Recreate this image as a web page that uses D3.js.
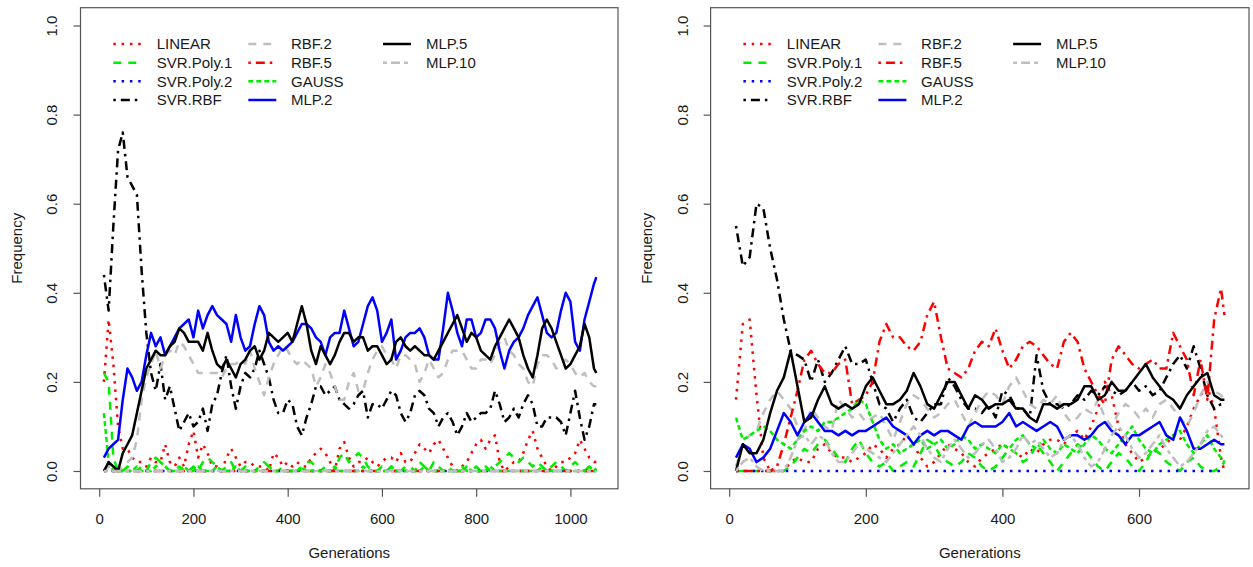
<!DOCTYPE html>
<html><head><meta charset="utf-8">
<script src="https://cdn.jsdelivr.net/npm/d3@7"></script>
<style>
body{margin:0;background:#fff}
text{font-family:Arial,"Liberation Sans",sans-serif;fill:#1a1a1a}
</style>
</head><body>
<svg id="c" width="1253" height="567"></svg>
<script>
// ---------- categories / ticks ----------
const seriesNames = ["LINEAR","SVR.Poly.1","SVR.Poly.2","SVR.RBF","RBF.2","RBF.5","GAUSS","MLP.2","MLP.5","MLP.10"];
const yTicks = [0, 0.2, 0.4, 0.6, 0.8, 1.0];
const leftXTicks = [0, 200, 400, 600, 800, 1000];
const rightXTicks = [0, 200, 400, 600];
const xLabel = "Generations";
const yLabel = "Frequency";

// generation grid (sampling positions of the curves)
const leftGen = d3.range(10, 1051, 10).concat([1055]);
const rightGen = d3.range(10, 721, 10).concat([725]);
const leftFlatGen = [10, 1055];
const rightFlatGen = [10, 725];
const flatZero = [0, 0];

// ---------- left panel values ----------
const leftLINEAR = [
0.20,0.34,0.24,0.10,0.05,0.05,0.03,0.02,0.02,0.01,
0.03,0.02,0.02,0.06,0.02,0.01,0.03,0.01,0.06,0.09,
0.03,0.06,0.04,0.01,0.01,0.00,0.03,0.05,0.03,0.01,
0.02,0.02,0.01,0.01,0.01,0.00,0.04,0.03,0.01,0.02,
0.01,0.02,0.01,0.01,0.03,0.04,0.05,0.04,0.02,0.00,
0.05,0.065,0.03,0.01,0.02,0.02,0.03,0.02,0.01,0.02,
0.03,0.03,0.02,0.04,0.02,0.02,0.04,0.06,0.05,0.04,
0.06,0.07,0.05,0.03,0.01,0.00,0.01,0.02,0.04,0.06,
0.07,0.05,0.07,0.08,0.02,0.00,0.01,0.02,0.02,0.04,
0.07,0.09,0.05,0.03,0.01,0.00,0.01,0.02,0.02,0.03,
0.04,0.07,0.05,0.03,0.02,0.02];
const leftSVRPoly1 = [
0.22,0.20,0.03,0.00,0.00,0.01,0.00,0.00,0.01,0.00,
0.02,0.03,0.02,0.01,0.00,0.00,0.01,0.00,0.00,0.01,
0.00,0.02,0.03,0.02,0.01,0.00,0.01,0.02,0.00,0.00,
0.01,0.00,0.00,0.01,0.02,0.01,0.00,0.00,0.01,0.00,
0.00,0.01,0.00,0.02,0.02,0.01,0.00,0.01,0.00,0.00,
0.03,0.04,0.02,0.03,0.04,0.03,0.01,0.00,0.00,0.01,
0.00,0.01,0.00,0.00,0.01,0.01,0.00,0.02,0.01,0.00,
0.02,0.01,0.00,0.01,0.00,0.00,0.01,0.00,0.00,0.01,
0.00,0.01,0.00,0.01,0.02,0.03,0.04,0.03,0.02,0.03,
0.02,0.01,0.02,0.01,0.00,0.01,0.02,0.01,0.00,0.01,
0.02,0.01,0.00,0.01,0.01,0.00];
const leftSVRRBF = [
0.44,0.36,0.55,0.72,0.76,0.66,0.64,0.62,0.45,0.31,
0.22,0.18,0.24,0.16,0.19,0.14,0.09,0.11,0.13,0.10,
0.11,0.14,0.09,0.15,0.17,0.22,0.26,0.19,0.14,0.19,
0.22,0.21,0.23,0.27,0.24,0.21,0.16,0.13,0.13,0.16,
0.15,0.10,0.08,0.12,0.15,0.19,0.19,0.17,0.18,0.19,
0.16,0.15,0.14,0.15,0.17,0.18,0.12,0.15,0.15,0.14,
0.16,0.18,0.17,0.13,0.11,0.13,0.17,0.18,0.17,0.14,
0.13,0.10,0.12,0.13,0.11,0.08,0.10,0.13,0.11,0.12,
0.13,0.13,0.14,0.18,0.15,0.11,0.12,0.14,0.12,0.15,
0.17,0.15,0.10,0.10,0.12,0.12,0.12,0.11,0.08,0.13,
0.18,0.12,0.07,0.10,0.15,0.15];
const leftRBF2 = [
0.00,0.01,0.00,0.00,0.01,0.02,0.03,0.07,0.16,0.21,
0.24,0.27,0.23,0.26,0.27,0.26,0.29,0.28,0.26,0.24,
0.22,0.22,0.22,0.22,0.22,0.21,0.23,0.24,0.24,0.25,
0.24,0.27,0.23,0.20,0.17,0.21,0.24,0.26,0.28,0.27,
0.25,0.24,0.25,0.24,0.23,0.19,0.21,0.24,0.22,0.19,
0.16,0.16,0.20,0.22,0.18,0.18,0.22,0.25,0.27,0.28,
0.26,0.25,0.23,0.26,0.26,0.25,0.24,0.20,0.22,0.25,
0.23,0.21,0.22,0.25,0.27,0.27,0.27,0.25,0.23,0.23,
0.25,0.25,0.24,0.26,0.29,0.30,0.27,0.26,0.24,0.23,
0.20,0.19,0.24,0.26,0.26,0.25,0.23,0.24,0.25,0.24,
0.22,0.21,0.22,0.20,0.19,0.19];
const leftGAUSS = [
0.13,0.02,0.00,0.00,0.00,0.00,0.00,0.01,0.00,0.00,
0.00,0.01,0.02,0.01,0.00,0.00,0.00,0.01,0.00,0.00,
0.01,0.00,0.00,0.00,0.01,0.00,0.00,0.00,0.01,0.00,
0.00,0.00,0.00,0.00,0.00,0.01,0.00,0.00,0.00,0.00,
0.00,0.00,0.01,0.00,0.00,0.00,0.00,0.00,0.00,0.01,
0.00,0.00,0.00,0.00,0.00,0.01,0.00,0.00,0.00,0.00,
0.00,0.01,0.00,0.00,0.00,0.00,0.00,0.00,0.01,0.00,
0.00,0.00,0.00,0.00,0.00,0.00,0.00,0.01,0.00,0.00,
0.00,0.00,0.01,0.00,0.00,0.00,0.00,0.00,0.00,0.00,
0.00,0.00,0.00,0.01,0.00,0.00,0.00,0.00,0.00,0.00,
0.00,0.00,0.00,0.01,0.00,0.00];
const leftMLP2 = [
0.03,0.05,0.06,0.07,0.16,0.23,0.21,0.18,0.20,0.26,
0.31,0.28,0.30,0.26,0.28,0.30,0.32,0.33,0.34,0.30,
0.36,0.32,0.35,0.37,0.35,0.34,0.33,0.29,0.35,0.30,
0.27,0.28,0.33,0.37,0.35,0.29,0.27,0.28,0.27,0.28,
0.29,0.31,0.33,0.33,0.32,0.30,0.29,0.26,0.30,0.31,
0.31,0.36,0.32,0.28,0.29,0.33,0.37,0.39,0.36,0.29,
0.31,0.34,0.25,0.27,0.30,0.31,0.31,0.32,0.30,0.26,
0.25,0.25,0.32,0.40,0.36,0.31,0.28,0.34,0.34,0.30,
0.31,0.34,0.34,0.32,0.27,0.23,0.27,0.29,0.30,0.32,
0.35,0.37,0.39,0.35,0.31,0.30,0.31,0.36,0.40,0.38,
0.29,0.27,0.34,0.38,0.42,0.435];
const leftMLP5 = [
0.00,0.02,0.01,0.00,0.04,0.06,0.08,0.13,0.18,0.23,
0.25,0.27,0.26,0.26,0.28,0.29,0.32,0.31,0.29,0.29,
0.29,0.27,0.31,0.27,0.24,0.23,0.25,0.23,0.21,0.24,
0.25,0.27,0.28,0.25,0.27,0.31,0.30,0.29,0.30,0.31,
0.29,0.33,0.37,0.33,0.27,0.24,0.28,0.26,0.24,0.26,
0.29,0.31,0.31,0.29,0.30,0.30,0.27,0.28,0.28,0.26,
0.24,0.25,0.29,0.30,0.28,0.27,0.28,0.27,0.26,0.26,
0.25,0.27,0.29,0.31,0.33,0.35,0.32,0.29,0.31,0.30,
0.27,0.26,0.25,0.28,0.30,0.32,0.34,0.32,0.30,0.26,
0.23,0.21,0.26,0.32,0.34,0.32,0.29,0.26,0.23,0.24,
0.26,0.28,0.33,0.30,0.23,0.22];

// ---------- right panel values ----------
const rightLINEAR = [
0.16,0.33,0.34,0.17,0.03,0.00,0.00,0.00,0.02,0.03,
0.02,0.02,0.05,0.06,0.04,0.03,0.03,0.02,0.03,0.04,
0.06,0.05,0.03,0.05,0.06,0.08,0.06,0.03,0.01,0.02,
0.04,0.06,0.05,0.04,0.02,0.01,0.03,0.04,0.05,0.06,
0.05,0.04,0.03,0.05,0.04,0.06,0.07,0.07,0.06,0.08,
0.09,0.07,0.10,0.14,0.20,0.17,0.10,0.06,0.04,0.02,
0.03,0.04,0.05,0.06,0.08,0.07,0.10,0.14,0.17,0.19,
0.14,0.03,0.00];
const rightSVRPoly1 = [
0.00,0.00,0.00,0.00,0.00,0.00,0.00,0.00,0.01,0.03,
0.05,0.04,0.06,0.07,0.05,0.03,0.02,0.05,0.07,0.04,
0.02,0.01,0.02,0.00,0.01,0.02,0.01,0.04,0.07,0.06,
0.03,0.02,0.01,0.02,0.04,0.03,0.01,0.00,0.01,0.03,
0.05,0.04,0.02,0.03,0.06,0.04,0.02,0.00,0.02,0.04,
0.06,0.05,0.03,0.01,0.00,0.02,0.04,0.03,0.01,0.00,
0.02,0.05,0.04,0.02,0.01,0.00,0.02,0.03,0.01,0.00,
0.00,0.01,0.02];
const rightSVRRBF = [
0.55,0.46,0.48,0.60,0.59,0.50,0.43,0.34,0.27,0.26,
0.25,0.20,0.25,0.20,0.22,0.25,0.28,0.24,0.24,0.25,
0.20,0.15,0.14,0.11,0.14,0.16,0.12,0.11,0.13,0.15,
0.15,0.21,0.19,0.16,0.14,0.14,0.13,0.15,0.12,0.18,
0.17,0.14,0.14,0.12,0.26,0.18,0.15,0.15,0.14,0.15,
0.17,0.16,0.18,0.17,0.19,0.18,0.17,0.18,0.20,0.18,
0.19,0.17,0.18,0.21,0.24,0.26,0.23,0.28,0.23,0.17,
0.14,0.15,0.15];
const rightRBF2 = [
0.01,0.06,0.08,0.09,0.13,0.16,0.18,0.16,0.14,0.10,
0.09,0.14,0.12,0.10,0.09,0.16,0.14,0.12,0.13,0.11,
0.12,0.13,0.10,0.07,0.11,0.15,0.17,0.16,0.14,0.12,
0.13,0.15,0.16,0.13,0.10,0.13,0.16,0.18,0.17,0.15,
0.19,0.21,0.18,0.15,0.14,0.16,0.15,0.17,0.13,0.11,
0.12,0.14,0.13,0.16,0.12,0.10,0.13,0.15,0.14,0.12,
0.14,0.12,0.15,0.16,0.14,0.12,0.10,0.13,0.17,0.20,
0.18,0.17,0.16];
const rightRBF5 = [
0.00,0.00,0.00,0.00,0.00,0.00,0.01,0.06,0.12,0.18,
0.25,0.27,0.24,0.22,0.22,0.24,0.25,0.15,0.16,0.17,
0.20,0.29,0.33,0.30,0.30,0.28,0.27,0.29,0.35,0.38,
0.30,0.23,0.22,0.21,0.23,0.27,0.29,0.28,0.32,0.27,
0.23,0.25,0.28,0.29,0.28,0.26,0.24,0.23,0.29,0.31,
0.29,0.23,0.20,0.17,0.15,0.25,0.28,0.26,0.24,0.23,
0.24,0.25,0.23,0.23,0.31,0.28,0.25,0.17,0.25,0.16,
0.34,0.41,0.35];
const rightGAUSS = [
0.12,0.07,0.08,0.09,0.10,0.09,0.07,0.06,0.05,0.07,
0.09,0.10,0.09,0.11,0.11,0.12,0.13,0.14,0.16,0.15,
0.11,0.07,0.05,0.06,0.04,0.05,0.06,0.07,0.05,0.06,
0.07,0.05,0.06,0.08,0.07,0.05,0.06,0.05,0.04,0.06,
0.05,0.07,0.08,0.06,0.05,0.07,0.05,0.04,0.06,0.05,
0.04,0.06,0.08,0.07,0.05,0.04,0.06,0.08,0.10,0.07,
0.05,0.04,0.06,0.07,0.08,0.09,0.06,0.04,0.06,0.08,
0.05,0.03,0.02];
const rightMLP2 = [
0.03,0.06,0.05,0.02,0.03,0.05,0.09,0.13,0.11,0.08,
0.11,0.13,0.11,0.09,0.09,0.08,0.09,0.08,0.09,0.09,
0.10,0.11,0.12,0.10,0.09,0.08,0.06,0.08,0.09,0.08,
0.09,0.09,0.08,0.07,0.10,0.11,0.10,0.10,0.10,0.11,
0.13,0.10,0.11,0.10,0.09,0.10,0.11,0.10,0.07,0.08,
0.08,0.07,0.08,0.10,0.11,0.09,0.08,0.06,0.08,0.08,
0.09,0.10,0.11,0.08,0.07,0.12,0.09,0.05,0.05,0.06,
0.07,0.06,0.06];
const rightMLP5 = [
0.00,0.06,0.04,0.04,0.07,0.13,0.18,0.21,0.27,0.19,
0.11,0.12,0.16,0.19,0.15,0.14,0.15,0.14,0.15,0.19,
0.21,0.18,0.15,0.15,0.16,0.18,0.22,0.19,0.15,0.14,
0.17,0.20,0.20,0.17,0.14,0.17,0.16,0.14,0.15,0.15,
0.16,0.14,0.14,0.12,0.11,0.15,0.15,0.14,0.15,0.15,
0.16,0.19,0.19,0.16,0.17,0.20,0.18,0.18,0.20,0.22,
0.24,0.21,0.19,0.17,0.16,0.14,0.17,0.19,0.21,0.22,
0.17,0.16,0.16];
const rightMLP10 = [
0.00,0.02,0.03,0.01,0.00,0.00,0.00,0.00,0.03,0.07,
0.08,0.06,0.08,0.07,0.04,0.02,0.02,0.04,0.06,0.05,
0.04,0.03,0.02,0.04,0.06,0.08,0.10,0.08,0.05,0.03,
0.02,0.05,0.07,0.05,0.03,0.04,0.06,0.07,0.05,0.02,
0.03,0.05,0.08,0.06,0.07,0.05,0.03,0.04,0.07,0.08,
0.06,0.03,0.01,0.02,0.05,0.08,0.10,0.08,0.05,0.03,
0.04,0.06,0.08,0.05,0.03,0.01,0.02,0.04,0.06,0.09,
0.10,0.08,0.07];

// ---------- styles ----------
const seriesColor = {
  "LINEAR":"#ff0000","SVR.Poly.1":"#00ee00","SVR.Poly.2":"#0000ff","SVR.RBF":"#000000",
  "RBF.2":"#bebebe","RBF.5":"#ff0000","GAUSS":"#00ee00","MLP.2":"#0000ff","MLP.5":"#000000","MLP.10":"#bebebe"};
const seriesDash = {
  "LINEAR":"2.5,5.8","SVR.Poly.1":"8,7","SVR.Poly.2":"2.5,5.8","SVR.RBF":"2.5,5,9,5",
  "RBF.2":"8,7","RBF.5":"2.5,5,9,5","GAUSS":"5,3","MLP.2":null,"MLP.5":null,"MLP.10":"4,4,9,4"};

const panels = [
  {left:80.5, right:618, xdom:[-39.7,1101], xticks:leftXTicks, series:[
    ["LINEAR", leftGen, leftLINEAR],
    ["SVR.Poly.1", leftGen, leftSVRPoly1],
    ["SVR.Poly.2", leftFlatGen, flatZero],
    ["SVR.RBF", leftGen, leftSVRRBF],
    ["RBF.2", leftGen, leftRBF2],
    ["RBF.5", leftFlatGen, flatZero],
    ["GAUSS", leftGen, leftGAUSS],
    ["MLP.2", leftGen, leftMLP2],
    ["MLP.5", leftGen, leftMLP5],
    ["MLP.10", leftFlatGen, flatZero]]},
  {left:710.6, right:1249, xdom:[-27.2,761], xticks:rightXTicks, series:[
    ["LINEAR", rightGen, rightLINEAR],
    ["SVR.Poly.1", rightGen, rightSVRPoly1],
    ["SVR.Poly.2", rightFlatGen, flatZero],
    ["SVR.RBF", rightGen, rightSVRRBF],
    ["RBF.2", rightGen, rightRBF2],
    ["RBF.5", rightGen, rightRBF5],
    ["GAUSS", rightGen, rightGAUSS],
    ["MLP.2", rightGen, rightMLP2],
    ["MLP.5", rightGen, rightMLP5],
    ["MLP.10", rightGen, rightMLP10]]}
];

const svg = d3.select("#c");
const plotTop = 7.7, plotBottom = 488.8;
const y = d3.scaleLinear().domain([-0.04, 1.04]).range([plotBottom, plotTop]);

panels.forEach(p => {
  const x = d3.scaleLinear().domain(p.xdom).range([p.left, p.right]);
  const g = svg.append("g");

  // lines
  const line = d3.line().x(d => x(d[0])).y(d => y(d[1]));
  p.series.forEach(([name, gen, vals]) => {
    g.append("path")
      .datum(d3.zip(gen, vals))
      .attr("d", line)
      .attr("fill", "none")
      .attr("stroke", seriesColor[name])
      .attr("stroke-width", 2.5)
      .attr("stroke-linejoin", "round")
      .attr("stroke-dasharray", seriesDash[name]);
  });

  // box
  g.append("rect").attr("x", p.left).attr("y", plotTop)
    .attr("width", p.right - p.left).attr("height", plotBottom - plotTop)
    .attr("fill", "none").attr("stroke", "#555").attr("stroke-width", 1.2);

  // x axis
  const xa = g.append("g").attr("transform", `translate(0,${plotBottom})`)
    .call(d3.axisBottom(x).tickValues(p.xticks).tickFormat(d3.format("d")).tickSize(8).tickSizeOuter(0));
  xa.select(".domain").remove();
  xa.selectAll(".tick line").attr("stroke", "#555").attr("stroke-width", 1.2);
  xa.selectAll(".tick text").attr("y", 30).attr("dy", "0.35em")
    .style("font-size", "15px").attr("fill", "#1a1a1a");

  // y axis
  const ya = g.append("g").attr("transform", `translate(${p.left},0)`)
    .call(d3.axisLeft(y).tickValues(yTicks).tickFormat(d3.format(".1f")).tickSize(7).tickSizeOuter(0));
  ya.select(".domain").remove();
  ya.selectAll(".tick line").attr("stroke", "#555").attr("stroke-width", 1.2);
  ya.selectAll(".tick text").attr("x", 0).attr("y", -28.3)
    .attr("dy", "0.35em").attr("text-anchor", "middle")
    .attr("transform", "rotate(-90)")
    .style("font-size", "15px").attr("fill", "#1a1a1a");

  // axis titles
  g.append("text").attr("x", (p.left + p.right) / 2).attr("y", 553).attr("dy", "0.35em")
    .attr("text-anchor", "middle").style("font-size", "15px").text(xLabel);
  g.append("text").attr("transform", `translate(${p.left - 63.5},${(plotTop + plotBottom) / 2}) rotate(-90)`)
    .attr("dy", "0.35em").attr("text-anchor", "middle").style("font-size", "15px").text(yLabel);

  // legend
  const colLine = [32.8, 167.8, 302.5];
  const colText = [76.2, 210.5, 345.5];
  const rowY = [44, 62.7, 81.3, 100];
  seriesNames.forEach((name, i) => {
    const c = Math.floor(i / 4), r = i % 4;
    const lx = p.left + colLine[c], ly = rowY[r];
    g.append("line").attr("x1", lx).attr("x2", lx + 28).attr("y1", ly).attr("y2", ly)
      .attr("stroke", seriesColor[name]).attr("stroke-width", 2.5)
      .attr("stroke-dasharray", seriesDash[name]);
    g.append("text").attr("x", p.left + colText[c]).attr("y", ly).attr("dy", "0.35em")
      .style("font-size", "15px").text(name);
  });
});
</script>
</body></html>
